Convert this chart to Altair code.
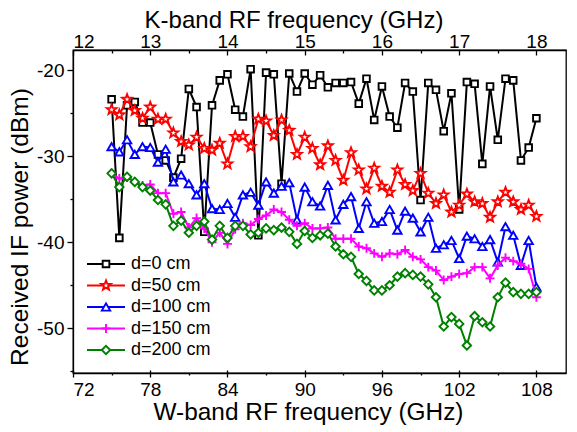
import math
import altair as alt
import pandas as pd

# W-band RF frequency (GHz) of each measured point (K-band x 6)
freq = [75.0, 75.6, 76.2, 76.8, 77.4, 78.0, 78.6, 79.2, 79.8, 80.4,
        81.0, 81.6, 82.2, 82.8, 83.4, 84.0, 84.6, 85.2, 85.8, 86.4,
        87.0, 87.6, 88.2, 88.8, 89.4, 90.0, 90.6, 91.2, 91.8, 92.4,
        93.0, 93.6, 94.2, 94.8, 95.4, 96.0, 96.6, 97.2, 97.8, 98.4,
        99.0, 99.6, 100.2, 100.8, 101.4, 102.0, 102.6, 103.2, 103.8, 104.4,
        105.0, 105.6, 106.2, 106.8, 107.4, 108.0]

d0 = [-23.4, -39.5, -24.1, -23.7, -26.1, -26.1, -29.8, -30.5, -32.5, -30.3,
      -22.2, -24.3, -38.8, -24.1, -21.2, -20.5, -24.6, -25.4, -19.9, -39.2,
      -20.3, -20.5, -33.2, -20.4, -22.5, -20.4, -21.7, -20.6, -22.0, -21.5,
      -21.5, -21.4, -23.9, -21.0, -25.8, -21.9, -25.4, -26.7, -21.5, -22.5,
      -35.1, -21.5, -22.3, -27.1, -22.7, -36.2, -21.4, -21.6, -30.9, -21.9,
      -28.1, -21.0, -21.2, -30.5, -29.0, -25.6]
d50 = [-24.6, -25.2, -23.4, -24.7, -25.6, -24.3, -25.7, -25.7, -27.3, -28.3,
       -28.7, -27.8, -29.1, -29.3, -28.5, -30.9, -27.7, -27.7, -28.9, -25.7,
       -25.9, -27.6, -25.8, -27.0, -29.8, -27.8, -29.1, -31.0, -28.8, -30.5,
       -32.8, -29.6, -31.6, -33.8, -31.4, -33.5, -34.2, -31.6, -33.3, -34.0,
       -32.0, -34.3, -35.5, -34.5, -36.5, -35.7, -34.4, -35.3, -35.5, -37.1,
       -35.3, -34.2, -35.3, -36.2, -35.7, -37.0]
d100 = [-28.9, -29.5, -28.1, -29.8, -28.9, -29.0, -30.7, -29.2, -33.0, -32.2,
        -33.2, -34.5, -33.2, -36.1, -36.2, -35.5, -37.1, -34.5, -34.2, -35.7,
        -33.0, -34.3, -33.5, -33.1, -37.4, -33.6, -35.3, -35.8, -33.4, -37.4,
        -35.6, -34.7, -38.4, -35.3, -37.8, -37.6, -36.2, -38.6, -36.4, -37.2,
        -38.8, -37.1, -40.7, -40.3, -39.8, -41.9, -39.3, -39.6, -40.5, -39.7,
        -42.3, -38.2, -39.2, -42.7, -39.8, -45.2]
d150 = [-32.0, -32.6, -32.5, -33.0, -33.4, -33.3, -34.3, -34.3, -36.7, -36.5,
        -38.3, -37.2, -38.4, -40.0, -38.9, -40.2, -38.5, -37.8, -38.0, -37.3,
        -36.9, -36.2, -36.5, -37.4, -38.1, -37.8, -38.4, -38.4, -38.3, -39.6,
        -39.6, -39.6, -40.5, -40.7, -41.3, -41.7, -41.3, -41.4, -40.9, -41.7,
        -42.0, -42.9, -43.3, -44.4, -44.0, -43.7, -43.6, -42.9, -42.9, -44.2,
        -42.7, -41.8, -42.2, -42.5, -43.1, -46.4]
d200 = [-32.0, -33.6, -32.4, -33.0, -33.6, -34.0, -35.1, -35.6, -38.1, -37.5,
        -38.9, -38.1, -37.6, -39.7, -38.1, -39.5, -38.1, -38.1, -39.1, -38.9,
        -38.4, -38.6, -38.3, -38.8, -40.2, -38.7, -39.5, -39.2, -39.0, -40.5,
        -41.4, -41.7, -43.7, -44.5, -45.6, -45.6, -45.0, -44.0, -43.6, -43.8,
        -44.0, -44.9, -46.4, -49.8, -48.7, -49.5, -52.0, -48.6, -49.3, -49.8,
        -46.4, -44.7, -45.8, -46.0, -46.0, -45.8]

names = ["d=0 cm", "d=50 cm", "d=100 cm", "d=150 cm", "d=200 cm"]
series = [d0, d50, d100, d150, d200]
colors = ["#000000", "#ff0000", "#0000ff", "#ff00ff", "#008000"]

x_ticks = [72, 75, 78, 81, 84, 87, 90, 93, 96, 99, 102, 105, 108]
x_major = [72, 78, 84, 90, 96, 102, 108]
x_minor = [75, 81, 87, 93, 99, 105]
y_ticks = [-55, -50, -45, -40, -35, -30, -25, -20]

FONT = "Liberation Sans"
XDOM = [72, 110.3]
YDOM = [-55.2, -17.67]

# marker shapes
star_pts = []
for k in range(10):
    a = -math.pi / 2 + k * math.pi / 5
    r = 1.0 if k % 2 == 0 else 0.42
    star_pts.append(f"{r * math.cos(a):.3f},{r * math.sin(a):.3f}")
STAR = "M" + "L".join(star_pts) + "Z"
PLUS = "M-1,0L1,0M0,-1L0,1"
shapes = ["square", STAR, "triangle-up", PLUS, "diamond"]
sizes = [44, 105, 70, 80, 72]

xs = alt.Scale(domain=XDOM, nice=False, zero=False)
ys = alt.Scale(domain=YDOM, nice=False, zero=False)

layers = []
for i, (nm, vals, col) in enumerate(zip(names, series, colors)):
    df = pd.DataFrame({"f": freq, "v": vals})
    base = alt.Chart(df)
    if i == 0:
        xa = alt.Axis(values=x_ticks,
                      labelExpr="datum.value % 6 == 0 ? '' + datum.value : ''",
                      tickSize={"condition": {"test": "datum.value % 6 != 0", "value": 2}, "value": 4},
                      labelOverlap=False, labelPadding=3, labelFontSize=19,
                      title="W-band RF frequency (GHz)", titleFontSize=24.4,
                      titleFontWeight="normal", titleX=235, titleY=46,
                      titleBaseline="alphabetic", titleAlign="center")
        ya = alt.Axis(values=y_ticks,
                      labelExpr="datum.value % 10 == 0 ? '' + datum.value : ''",
                      tickSize={"condition": {"test": "datum.value % 10 != 0", "value": 3}, "value": 6},
                      labelOverlap=False, labelPadding=3, labelFontSize=19,
                      title="Received IF power (dBm)", titleFontSize=24.5,
                      titleFontWeight="normal", titleX=-46, titleY=176.5,
                      titleAngle=270, titleBaseline="alphabetic", titleAlign="center")
    else:
        xa = None
        ya = None
    enc = dict(x=alt.X("f:Q", scale=xs, axis=xa), y=alt.Y("v:Q", scale=ys, axis=ya))
    layers.append(base.mark_line(color=col, strokeWidth=2).encode(**enc))
    layers.append(base.mark_point(shape=shapes[i], size=sizes[i], filled=True,
                                  fill="white", stroke=col, strokeWidth=1.9,
                                  opacity=1).encode(
        x=alt.X("f:Q", scale=xs, axis=None), y=alt.Y("v:Q", scale=ys, axis=None)))

# extra axes: top (K-band) and inward ticks
ax_df = pd.DataFrame({"f": freq, "v": d0})
top_major = alt.Chart(ax_df).mark_point(opacity=0).encode(
    x=alt.X("f:Q", scale=xs, axis=alt.Axis(
        orient="top", values=x_major, labelExpr="'' + (datum.value / 6)",
        tickSize=alt.ExprRef(expr="-5"), labelPadding=4, labelFontSize=19,
        labelOverlap=False, title="K-band RF frequency (GHz)", titleFontSize=24,
        titleFontWeight="normal", titleX=220.5, titleY=-23,
        titleBaseline="alphabetic", titleAlign="center")),
    y=alt.Y("v:Q", scale=ys, axis=None))
top_minor = alt.Chart(ax_df).mark_point(opacity=0).encode(
    x=alt.X("f:Q", scale=xs, axis=alt.Axis(
        orient="top", values=x_minor, labels=False, domain=False,
        tickSize=alt.ExprRef(expr="-3"), title=None)),
    y=alt.Y("v:Q", scale=ys, axis=None))
bottom_in = alt.Chart(ax_df).mark_point(opacity=0).encode(
    x=alt.X("f:Q", scale=xs, axis=alt.Axis(
        orient="bottom", values=x_major, labels=False, domain=False,
        tickSize=alt.ExprRef(expr="-3"), title=None)),
    y=alt.Y("v:Q", scale=ys, axis=None))
layers += [top_major, top_minor, bottom_in]

# legend inside the plot (lower left)
one = pd.DataFrame({"k": [0]})
leg_y0 = 214
for i, (nm, col) in enumerate(zip(names, colors)):
    yy = leg_y0 + 21.5 * i
    layers.append(alt.Chart(one).mark_rule(color=col, strokeWidth=2).encode(
        x=alt.value(14), x2=alt.value(52), y=alt.value(yy)))
    layers.append(alt.Chart(one).mark_point(shape=shapes[i], size=sizes[i], filled=True,
                                            fill="white", stroke=col, strokeWidth=1.9,
                                            opacity=1).encode(
        x=alt.value(33), y=alt.value(yy)))
    layers.append(alt.Chart(one).mark_text(align="left", baseline="middle",
                                           fontSize=18, font=FONT, color="black").encode(
        x=alt.value(58), y=alt.value(yy), text=alt.value(nm)))

chart = alt.layer(*layers).resolve_axis(x="independent", y="independent").properties(
    width=493, height=323,
    autosize=alt.AutoSizeParams(type="none"),
    padding={"left": 65, "top": 42, "right": 3, "bottom": 58},
).configure_view(stroke="black", strokeWidth=1.3).configure_axis(
    labelFont=FONT, titleFont=FONT, labelColor="black", titleColor="black",
    tickColor="black", domainColor="black", domainWidth=1.3, tickWidth=1.3,
    grid=False,
)

chart.save("out.html", embed_options={"renderer": "svg", "actions": False})
